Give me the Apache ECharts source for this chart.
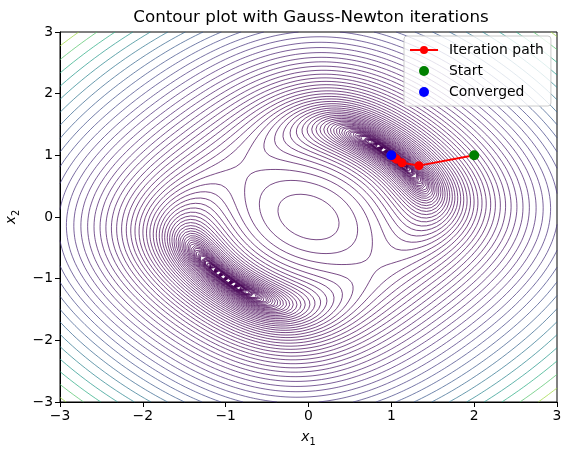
<!DOCTYPE html>
<html><head><meta charset="utf-8">
<script src="https://cdn.jsdelivr.net/npm/echarts@6/dist/echarts.min.js"></script>
<style>html,body{margin:0;padding:0;background:#fff}#c{width:570px;height:455px}</style>
</head><body><div id="c"></div>
<script>
// ---- data ----
const titleText = 'Contour plot with Gauss-Newton iterations';
const xTicks = [-3, -2, -1, 0, 1, 2, 3];
const yTicks = [-3, -2, -1, 0, 1, 2, 3];
const domainX = [-3, 3];
const domainY = [-3, 3];
const levelLogMin = -3;      // lowest contour level = 10^-3
const levelCount = 80;       // log-spaced levels up to max of field
const gridPoints = 100;
const pathX = [2, 1.333, 1.128, 1.0625, 1.031, 1.016, 1.008, 1.004, 1.002, 1.001, 1.0005];
const pathY = [1, 0.833, 0.878, 0.9375, 0.969, 0.984, 0.992, 0.996, 0.998, 0.999, 0.9995];
const startPt = [2, 1];
const convergedPt = [1.0, 1.0];
const legendNames = ['Iteration path', 'Start', 'Converged'];

// depicted objective: sum of squared residuals
function objective(x1, x2) {
  const r1 = x1 * x2 - 1, r2 = x1 * x1 + x2 * x2 - 2;
  return r1 * r1 + r2 * r2;
}

// ---- viridis ----
const viridisStops = ['#440154','#482475','#414487','#355f8d','#2a788e','#21918c','#22a884','#44bf70','#7ad151','#bddf26','#fde725'];
function hex2rgb(h){return [parseInt(h.slice(1,3),16),parseInt(h.slice(3,5),16),parseInt(h.slice(5,7),16)];}
const vRGB = viridisStops.map(hex2rgb);
function viridis(t){
  t = Math.max(0, Math.min(1, t));
  const p = t * (vRGB.length - 1); const i = Math.min(vRGB.length - 2, Math.floor(p)); const f = p - i;
  const a = vRGB[i], b = vRGB[i + 1];
  return 'rgb(' + [0,1,2].map(k => Math.round(a[k] + (b[k] - a[k]) * f)).join(',') + ')';
}

// ---- field & contours (marching squares) ----
const N = gridPoints;
const hx = (domainX[1] - domainX[0]) / (N - 1), hy = (domainY[1] - domainY[0]) / (N - 1);
const Z = new Float64Array(N * N);
let zmax = -Infinity;
for (let j = 0; j < N; j++) for (let i = 0; i < N; i++) {
  const v = objective(domainX[0] + i * hx, domainY[0] + j * hy);
  Z[j * N + i] = v; if (v > zmax) zmax = v;
}
const logMax = Math.log10(zmax);
const levels = [];
for (let k = 0; k < levelCount; k++) levels.push(Math.pow(10, levelLogMin + k * (logMax - levelLogMin) / (levelCount - 1)));
const lvMin = levels[0], lvMax = levels[levels.length - 1];

function contourLines(L) {
  const adj = new Map();
  function link(a, b) {
    let x = adj.get(a); if (!x) { x = []; adj.set(a, x); } x.push(b);
    let y = adj.get(b); if (!y) { y = []; adj.set(b, y); } y.push(a);
  }
  for (let j = 0; j < N - 1; j++) for (let i = 0; i < N - 1; i++) {
    const k = j * N + i;
    const bl = Z[k], br = Z[k + 1], tr = Z[k + N + 1], tl = Z[k + N];
    const c = (bl >= L ? 1 : 0) | (br >= L ? 2 : 0) | (tr >= L ? 4 : 0) | (tl >= L ? 8 : 0);
    if (c === 0 || c === 15) continue;
    const B = 2 * k, R = 2 * (k + 1) + 1, T = 2 * (k + N), Le = 2 * k + 1;
    switch (c) {
      case 1: case 14: link(Le, B); break;
      case 2: case 13: link(B, R); break;
      case 3: case 12: link(Le, R); break;
      case 4: case 11: link(R, T); break;
      case 6: case 9: link(B, T); break;
      case 7: case 8: link(Le, T); break;
      case 5: {
        const m = (bl + br + tr + tl) / 4;
        if (m >= L) { link(B, R); link(T, Le); } else { link(Le, B); link(R, T); }
        break;
      }
      case 10: {
        const m = (bl + br + tr + tl) / 4;
        if (m >= L) { link(Le, B); link(R, T); } else { link(B, R); link(T, Le); }
        break;
      }
    }
  }
  function pt(id) {
    const k = id >> 1, i = k % N, j = (k - i) / N; const za = Z[k];
    if ((id & 1) === 0) { const zb = Z[k + 1]; const t = (L - za) / (zb - za); return [domainX[0] + (i + t) * hx, domainY[0] + j * hy]; }
    const zb = Z[k + N]; const t = (L - za) / (zb - za); return [domainX[0] + i * hx, domainY[0] + (j + t) * hy];
  }
  const visited = new Set(); const out = [];
  function walk(start) {
    const pts = []; let prev = -1, cur = start;
    visited.add(cur); pts.push(pt(cur));
    while (true) {
      const nb = adj.get(cur); let next = -1;
      for (const n of nb) if (n !== prev && !visited.has(n)) { next = n; break; }
      if (next < 0) { if (nb.length === 2 && nb.indexOf(start) >= 0 && pts.length > 2) pts.push(pt(start)); break; }
      visited.add(next); pts.push(pt(next)); prev = cur; cur = next;
    }
    return pts;
  }
  for (const [id, nb] of adj) if (nb.length === 1 && !visited.has(id)) out.push(walk(id));
  for (const [id] of adj) if (!visited.has(id)) out.push(walk(id));
  return out;
}

const contourData = [];
levels.forEach(L => {
  const col = viridis((L - lvMin) / (lvMax - lvMin));
  contourLines(L).forEach(pts => { if (pts.length > 1) contourData.push({ coords: pts, lineStyle: { color: col } }); });
});

// ---- chart ----
const FONT = 'DejaVu Sans';
const minus = v => (v < 0 ? '\u2212' + Math.abs(v) : String(v));
const chart = echarts.init(document.getElementById('c'), null, { renderer: 'canvas' });
chart.setOption({
  animation: false,
  backgroundColor: '#ffffff',
  textStyle: { fontFamily: FONT },
  grid: { left: 60, right: 13, top: 32, bottom: 53, show: true, borderColor: '#000', borderWidth: 1, backgroundColor: 'transparent', outerBoundsMode: 'none', containLabel: false },
  graphic: [{ type: 'text', x: 311, y: 18, style: { text: titleText, font: '16.7px "DejaVu Sans"', fill: '#000', textAlign: 'center', textVerticalAlign: 'middle' } }],
  legend: {
    orient: 'vertical', left: 404, top: 36, padding: [7, 7, 7, 5], itemGap: 7, itemWidth: 28, itemHeight: 10,
    backgroundColor: 'rgba(255,255,255,0.8)', borderColor: '#cccccc', borderWidth: 1, borderRadius: 3,
    textStyle: { fontSize: 13.9, color: '#000', fontFamily: FONT, padding: [0, 0, 0, 6] }, data: legendNames
  },
  xAxis: {
    type: 'value', min: xTicks[0], max: xTicks[xTicks.length - 1], interval: 1,
    axisLine: { onZero: false, lineStyle: { color: '#000', width: 1 } },
    axisTick: { show: true, length: 5, lineStyle: { color: '#000' } },
    axisLabel: { color: '#000', fontSize: 13.9, margin: 7, formatter: minus, fontFamily: FONT },
    splitLine: { show: false },
    name: '{i|x}{s|1}', nameLocation: 'middle', nameGap: 25,
    nameTextStyle: { rich: { i: { fontStyle: 'italic', fontSize: 13.9, color: '#000', fontFamily: FONT, lineHeight: 20, verticalAlign: 'middle' }, s: { fontSize: 9.7, color: '#000', fontFamily: FONT, lineHeight: 20, verticalAlign: 'bottom' } } }
  },
  yAxis: {
    type: 'value', min: yTicks[0], max: yTicks[yTicks.length - 1], interval: 1,
    axisLine: { onZero: false, lineStyle: { color: '#000', width: 1 } },
    axisTick: { show: true, length: 5, lineStyle: { color: '#000' } },
    axisLabel: { color: '#000', fontSize: 13.9, margin: 7, formatter: minus, fontFamily: FONT },
    splitLine: { show: false },
    name: '{i|x}{s|2}', nameLocation: 'middle', nameGap: 37, nameRotate: 90,
    nameTextStyle: { rich: { i: { fontStyle: 'italic', fontSize: 13.9, color: '#000', fontFamily: FONT, lineHeight: 20, verticalAlign: 'middle' }, s: { fontSize: 9.7, color: '#000', fontFamily: FONT, lineHeight: 20, verticalAlign: 'bottom' } } }
  },
  series: [
    { type: 'lines', coordinateSystem: 'cartesian2d', polyline: true, silent: true, large: false, z: 1,
      lineStyle: { width: 0.8, opacity: 0.9 }, data: contourData },
    { type: 'line', name: legendNames[0], data: pathX.map((x, i) => [x, pathY[i]]), z: 3,
      symbol: 'circle', symbolSize: 9, showAllSymbol: true, color: '#ff0000',
      lineStyle: { color: '#ff0000', width: 2 }, itemStyle: { color: '#ff0000' } },
    { type: 'scatter', name: legendNames[1], data: [startPt], z: 4, symbolSize: 10, itemStyle: { color: '#008000', opacity: 1 } },
    { type: 'scatter', name: legendNames[2], data: [convergedPt], z: 5, symbolSize: 10, itemStyle: { color: '#0000ff', opacity: 1 } }
  ]
});
</script></body></html>
